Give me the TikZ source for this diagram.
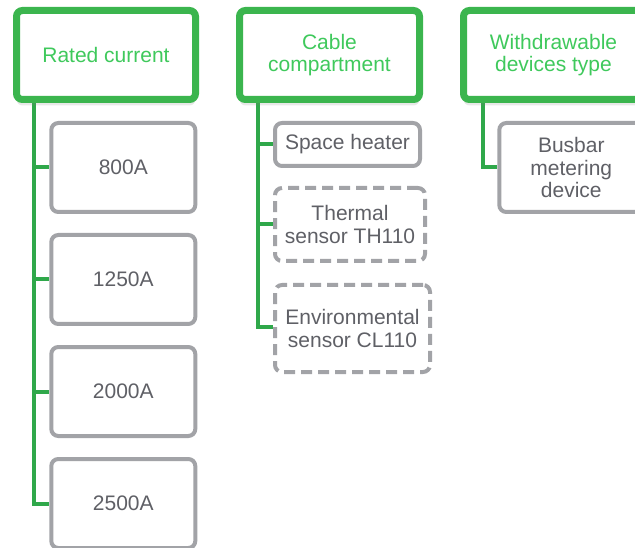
\documentclass[tikz,border=0pt]{standalone}
\usepackage{fontspec}
\setmainfont{Liberation Sans}
\usetikzlibrary{shadows,backgrounds}
\definecolor{hdrgreen}{HTML}{3BB54E}
\definecolor{txtgreen}{HTML}{3FC95C}
\definecolor{lngreen}{HTML}{2FA84A}
\definecolor{bxgray}{HTML}{A2A3A7}
\definecolor{txgray}{HTML}{5F6066}
\tikzset{
  hdr/.style={draw=hdrgreen, line width=7pt, rounded corners=6pt, fill=white,
    minimum width=180pt, minimum height=89pt, inner sep=0pt, align=center,
    text=txtgreen, font=\fontsize{21}{22.5}\selectfont,
    drop shadow={opacity=0.18, shadow xshift=0pt, shadow yshift=-6pt}},
  item/.style={draw=bxgray, line width=4pt, rounded corners=7pt, fill=white,
    inner sep=0pt, align=center, text=txgray,
    font=\fontsize{21}{22.5}\selectfont},
  opt/.style={item, dash pattern=on 11pt off 6pt},
  conn/.style={draw=lngreen, line width=4pt}
}
\begin{document}
\begin{tikzpicture}[x=1pt,y=-1pt]
\useasboundingbox (0,0) rectangle (635,548);
% headers
\node[hdr, minimum width=179pt] (rc) at (106,55) {Rated current};
\node[hdr] (cc) at (329.5,55) {Cable\\compartment};
\node[hdr] (wd) at (553.5,55) {Withdrawable\\devices type};
% column 1
\node[item, minimum width=144pt, minimum height=89pt] (a1) at (123.3,167.5) {800A};
\node[item, minimum width=144pt, minimum height=89pt] (a2) at (123.3,279.5) {1250A};
\node[item, minimum width=144pt, minimum height=89pt] (a3) at (123.3,391.5) {2000A};
\node[item, minimum width=144pt, minimum height=89pt] (a4) at (123.3,503.5) {2500A};
% column 2
\node[item, minimum width=145pt, minimum height=43pt] (b1) at (347.5,144.5) {Space heater};
\node[opt, minimum width=150pt, minimum height=73pt] (b2) at (350,224.5) {Thermal\\sensor TH110};
\node[opt, minimum width=155pt, minimum height=87pt] (b3) at (352.5,328.5) {Environmental\\sensor CL110};
% column 3
\node[item, minimum width=144pt, minimum height=89pt] (c1) at (571.3,167.5) {Busbar\\metering\\device};
% trunks
\coordinate (t1) at (34,95);
\coordinate (t2) at (258,95);
\coordinate (t3) at (483,95);
\begin{scope}[on background layer]
\draw[conn] (t1) |- (a4.west);
\draw[conn] (a1.west -| t1) -- (a1.west);
\draw[conn] (a2.west -| t1) -- (a2.west);
\draw[conn] (a3.west -| t1) -- (a3.west);
\draw[conn] (t2) |- ([yshift=1.5pt]b3.west);
\draw[conn] (b1.west -| t2) -- (b1.west);
\draw[conn] (b2.west -| t2) -- (b2.west);
\draw[conn] (t3) |- (c1.west);
\end{scope}
\end{tikzpicture}
\end{document}
